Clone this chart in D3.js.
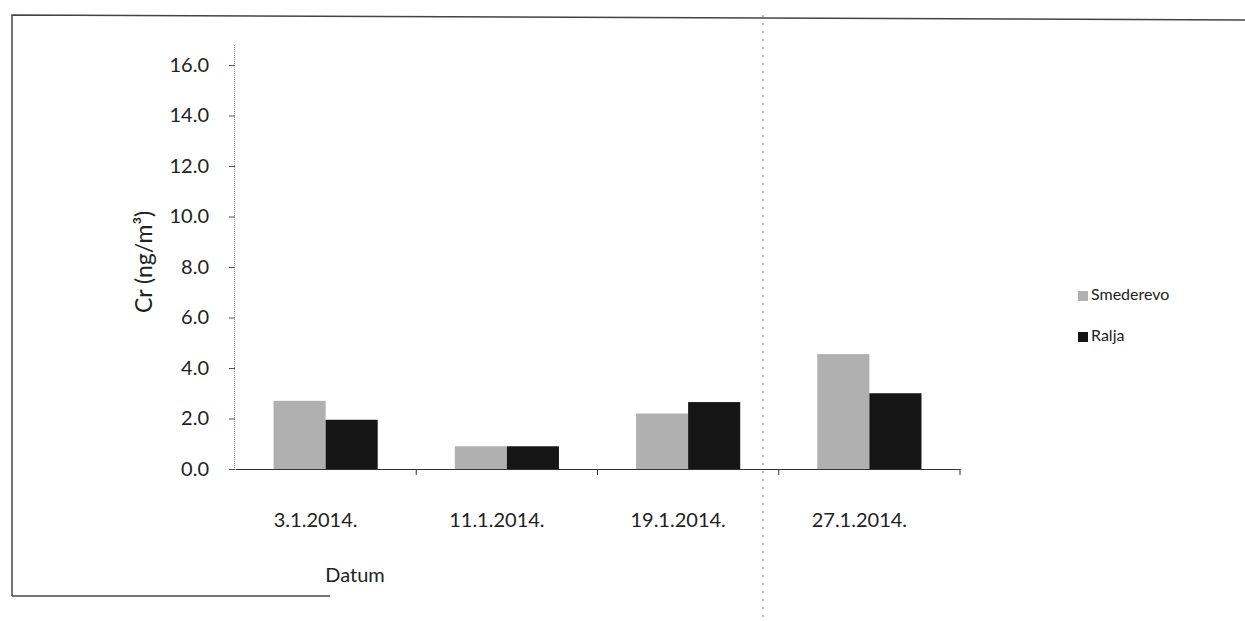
<html>

<head>
    <style>
        body {
            margin: 0;
            background: #fff;
        }

        svg text {
            font-family: Lato, "Open Sans", sans-serif;
            fill: #222;
        }
    </style>
    <script src="https://d3js.org/d3.v7.min.js"></script>
</head>

<body>
    <svg id="chart"></svg>

    <script>
        // data
        var dates = ['3.1.2014.', '11.1.2014.', '19.1.2014.', '27.1.2014.'];
        var stations = ['Smederevo', 'Ralja'];
        var smederevo = [2.7, 0.9, 2.2, 4.55];
        var ralja = [1.95, 0.9, 2.65, 3.0];
        var yTicks = [0, 2, 4, 6, 8, 10, 12, 14, 16];

        var W = 1245, H = 621;
        var svg = d3.select('svg#chart')
            .attr('width', W)
            .attr('height', H);

        var colors = d3.scaleOrdinal()
            .domain(stations)
            .range(['#b0b0b0', '#151515']);

        var margin = {left: 235, right: 285, top: 45, bottom: 152};

        var x = d3.scaleBand()
            .domain(dates)
            .range([margin.left, W - margin.right]);

        var xInner = d3.scaleBand()
            .domain(stations)
            .range([0, x.bandwidth()])
            .paddingOuter(0.74);

        var y = d3.scaleLinear()
            .domain([0, 16])
            .range([H - margin.bottom, 65]);

        // scan frame
        svg.append('path')
            .attr('d', 'M12,596 V15 L' + W + ',20')
            .attr('fill', 'none')
            .attr('stroke', '#444')
            .attr('stroke-width', 1.5);
        svg.append('line')
            .attr('x1', 12).attr('x2', 330)
            .attr('y1', 596).attr('y2', 596)
            .attr('stroke', '#444')
            .attr('stroke-width', 1.5);
        svg.append('line')
            .attr('x1', 763).attr('x2', 763)
            .attr('y1', 15).attr('y2', H)
            .attr('stroke', '#777')
            .attr('stroke-dasharray', '2,6');

        // bars
        var rows = dates.map(function (d, i) {
            return {date: d, values: [
                {key: 'Smederevo', value: smederevo[i]},
                {key: 'Ralja', value: ralja[i]}
            ]};
        });

        var groups = svg.append('g').selectAll('g')
            .data(rows)
            .enter().append('g')
            .attr('transform', function (d) { return 'translate(' + x(d.date) + ',0)'; });

        groups.selectAll('rect')
            .data(function (d) { return d.values; })
            .enter().append('rect')
            .attr('x', function (d) { return xInner(d.key); })
            .attr('width', xInner.bandwidth())
            .attr('y', function (d) { return y(d.value); })
            .attr('height', function (d) { return y(0) - y(d.value); })
            .attr('fill', function (d) { return colors(d.key); });

        // y axis
        var yAxis = svg.append('g')
            .attr('transform', 'translate(' + margin.left + ',0)')
            .call(d3.axisLeft(y).tickValues(yTicks).tickFormat(d3.format('.1f')).tickSize(6).tickPadding(20));
        yAxis.select('.domain')
            .attr('d', 'M-0.5,' + margin.top + 'V' + y(0))
            .attr('stroke', '#999')
            .attr('stroke-dasharray', '1,1');
        yAxis.selectAll('.tick line').attr('stroke', '#555');
        yAxis.selectAll('text')
            .style('font-size', '20px')
            .attr('fill', '#222');

        // x axis with ticks between categories
        var xAxis = svg.append('g')
            .attr('transform', 'translate(0,' + y(0) + ')')
            .call(d3.axisBottom(x).tickSize(0).tickPadding(44));
        xAxis.select('.domain').attr('stroke', '#333');
        xAxis.selectAll('text')
            .style('font-size', '20px')
            .attr('dx', -10)
            .attr('fill', '#222');
        xAxis.selectAll('.sep')
            .data(dates)
            .enter().append('line')
            .attr('class', 'sep')
            .attr('x1', function (d) { return x(d) + x.bandwidth(); })
            .attr('x2', function (d) { return x(d) + x.bandwidth(); })
            .attr('y1', 0).attr('y2', 6)
            .attr('stroke', '#333');

        // axis titles
        svg.append('text')
            .attr('transform', 'translate(146,' + y(8.2) + ') rotate(-90)')
            .attr('text-anchor', 'middle')
            .attr('dominant-baseline', 'middle')
            .style('font-size', '23px')
            .text('Cr (ng/m³)');

        svg.append('text')
            .attr('x', 355)
            .attr('y', 577)
            .attr('text-anchor', 'middle')
            .attr('dominant-baseline', 'middle')
            .style('font-size', '20px')
            .text('Datum');

        // legend
        var legend = svg.append('g').selectAll('g')
            .data(stations)
            .enter().append('g')
            .attr('transform', function (d, i) { return 'translate(1078,' + (296 + i * 41) + ')'; });
        legend.append('rect')
            .attr('x', 0).attr('y', -5)
            .attr('width', 10).attr('height', 10)
            .attr('fill', function (d) { return colors(d); });
        legend.append('text')
            .attr('x', 13)
            .attr('dominant-baseline', 'middle')
            .style('font-size', '16px')
            .text(function (d) { return d; });
    </script>
</body>

</html>
